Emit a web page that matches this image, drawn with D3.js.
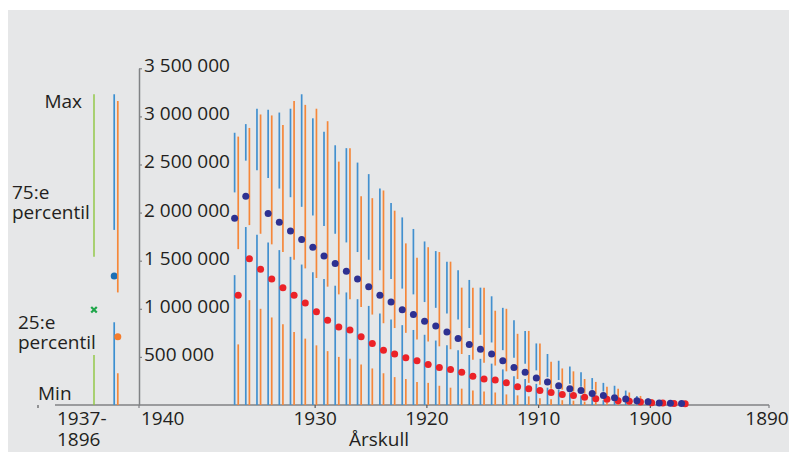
<!DOCTYPE html>
<html>
<head>
<meta charset="utf-8">
<script src="https://cdn.jsdelivr.net/npm/d3@7"></script>
<style>
  body { margin: 0; background: #fff; }
  svg { display: block; font-family: "Open Sans", sans-serif; }
  text { fill: #231f20; font-size: 19px; }
</style>
</head>
<body>
<svg id="chart" width="789" height="452"></svg>
<script>
// birth cohorts (Årskull), values in thousands
const years = [1937, 1936, 1935, 1934, 1933, 1932, 1931, 1930, 1929, 1928,
               1927, 1926, 1925, 1924, 1923, 1922, 1921, 1920, 1919, 1918,
               1917, 1916, 1915, 1914, 1913, 1912, 1911, 1910, 1909, 1908,
               1907, 1906, 1905, 1904, 1903, 1902, 1901, 1900, 1899, 1898, 1897];

// blue series
const blueMax = [2830, 2920, 3080, 3070, 3040, 3080, 3230, 2980, 2840, 2700,
                 2670, 2520, 2400, 2250, 2100, 1950, 1830, 1700, 1600, 1490,
                 1400, 1300, 1220, 1130, 1010, 880, 770, 640, 530, 460,
                 400, 340, 280, 230, 200, 150, 94, 70, 50, 35, 25];
const blueQ3 = [2210, 2540, 2440, 2360, 2250, 2160, 2060, 1970, 1860, 1780,
                1690, 1590, 1510, 1400, 1310, 1210, 1150, 1070, 1010, 950,
                890, 800, 730, 650, 570, 490, 430, 360, 290, 260,
                220, 190, 160, 140, 110, 86, 57, 40, 30, 20, 16];
const blueMed = [1940, 2170, null, 1990, 1900, 1810, 1720, 1640, 1550, 1470,
                 1390, 1310, 1230, 1140, 1070, 990, 940, 870, 820, 760,
                 690, 630, 580, 530, 460, 390, 340, 280, 240, 200,
                 170, 150, 120, 100, 76, 62, 45, 34, 21, 18, 16];
const blueQ1 = [1350, 1850, 1770, 1690, 1610, 1540, 1460, 1380, 1310, 1240,
                1170, 1100, 1030, 950, 890, 830, 780, 730, 670, 620,
                570, 520, 480, 430, 370, 300, 270, 220, 180, 160,
                130, 100, 90, 50, 40, 36, 26, 20, 12, 8, 5];
const blueMin = [0, 0, 0, 0, 0, 0, 0, 0, 0, 0, 0, 0, 0, 0, 0, 0, 0, 0, 0, 0, 0,
                 0, 0, 0, 0, 0, 0, 0, 0, 0, 0, 0, 0, 0, 0, 0, 0, 0, 0, 0, 0];

// orange series
const orangeMax = [2790, 2880, 3020, 3010, 2910, 3160, 3120, 3080, 2950, 2530,
                   2670, 2170, 2150, 2230, 2020, 1680, 1530, 1640, 1590, 1490,
                   1220, 1220, 1220, 980, 1000, 740, 770, 640, 450, 380,
                   350, 270, 240, 190, 170, 130, 94, 60, 40, 30, 20];
const orangeQ3 = [1620, 1870, 1780, 1670, 1590, 1510, 1420, 1320, 1230, 1150,
                  1100, 1020, 940, 850, 800, 750, 680, 660, 610, 580,
                  530, 470, 440, 410, 350, 270, 230, 210, 170, 160,
                  140, 120, 110, 90, 70, 60, 47, 35, 25, 18, 14];
const orangeMed = [1140, 1520, 1410, 1310, 1220, 1140, 1060, 970, 880, 810,
                   780, 710, 640, 570, 530, 490, 460, 420, 390, 370,
                   340, 300, 270, 260, 230, 190, 170, 150, 130, 110,
                   100, 80, 65, 60, 45, 38, 31, 24, 21, 16, 14];
const orangeQ1 = [630, 1090, 1000, 910, 840, 760, 690, 620, 560, 500,
                  480, 420, 380, 330, 290, 270, 240, 230, 200, 180,
                  170, 150, 140, 130, 110, 100, 90, 70, 60, 50,
                  45, 35, 30, 25, 20, 18, 12, 10, 8, 6, 4];
const orangeMin = [0, 0, 0, 0, 0, 0, 0, 0, 0, 0, 0, 0, 0, 0, 0, 0, 0, 0, 0, 0, 0,
                   0, 0, 0, 0, 0, 0, 0, 0, 0, 0, 0, 0, 0, 0, 0, 0, 0, 0, 0, 0];

// whole period 1937-1896 (max, q3, median, q1, min) and the key glyph
const totalBlue = [3230, 1820, 1340, 860, 0];
const totalOrange = [3160, 1170, 710, 330, 0];
const keyGlyph = [3230, 1540, 990, 520, 0];

const yTicks = [500, 1000, 1500, 2000, 2500, 3000, 3500];
const xTicks = [1930, 1920, 1910, 1900];

const svg = d3.select("#chart");

svg.append("rect")
    .attr("x", 8).attr("y", 10)
    .attr("width", 781).attr("height", 442)
    .attr("fill", "#e6e7e8");

const y = d3.scaleLinear().domain([0, 3500]).range([405, 68.3]);
const x = d3.scaleLinear().domain([1940, 1890]).range([202.9, 761.6]);
const legendX = d3.scalePoint().domain(["key", "total"]).range([94, 116]);

const axisColor = "#808285";
const fmt = d3.formatLocale({decimal: ",", thousands: " ", grouping: [3], currency: ["", ""]}).format(",");

// y axis
const yAxis = svg.append("g")
    .attr("transform", "translate(139,0)")
    .call(d3.axisRight(y).tickValues(yTicks).tickSize(3).tickSizeOuter(0)
        .tickPadding(2).tickFormat(d => fmt(d * 1000)));
yAxis.attr("font-family", null).attr("font-size", null);
yAxis.select(".domain").attr("stroke", axisColor).attr("stroke-width", 1.5);
yAxis.selectAll(".tick line").attr("stroke", axisColor).attr("stroke-width", 1.2);
yAxis.selectAll(".tick text").attr("dy", "0.18em");

// x axis
svg.append("line")
    .attr("x1", 55).attr("x2", 769).attr("y1", 405).attr("y2", 405)
    .attr("stroke", axisColor).attr("stroke-width", 1.5);
const xAxis = svg.append("g")
    .attr("transform", "translate(0,405)")
    .call(d3.axisBottom(x).tickValues(xTicks).tickSize(3).tickPadding(3.5)
        .tickFormat(d3.format("d")));
xAxis.attr("font-family", null).attr("font-size", null);
xAxis.select(".domain").remove();
xAxis.selectAll(".tick line").attr("stroke", "#58595b").attr("stroke-width", 1.2);

[[139, 1940, "start", 141], [769, 1890, "middle", 767]].forEach(([tx, label, anchor, lx]) => {
    svg.append("line").attr("x1", tx).attr("x2", tx).attr("y1", 405).attr("y2", 408)
        .attr("stroke", axisColor).attr("stroke-width", 1.2);
    svg.append("text").attr("x", lx).attr("y", 425)
        .attr("text-anchor", anchor).text(label);
});
svg.append("line").attr("x1", 38).attr("x2", 38).attr("y1", 405).attr("y2", 408)
    .attr("stroke", "#58595b").attr("stroke-width", 1.2);

svg.append("text").attr("x", 379).attr("y", 446)
    .attr("text-anchor", "middle").text("Årskull");
svg.append("text").attr("x", 57).attr("y", 425).text("1937-");
svg.append("text").attr("x", 57).attr("y", 446).text("1896");

// yearly glyphs: upper bar max->q3, dot at median, lower bar q1->min
const series = [
    {max: blueMax, q3: blueQ3, med: blueMed, q1: blueQ1, min: blueMin,
     dx: -1.8, bar: "#4290cf", dot: "#2e3192"},
    {max: orangeMax, q3: orangeQ3, med: orangeMed, q1: orangeQ1, min: orangeMin,
     dx: 1.8, bar: "#f5873a", dot: "#ec2227"}
];

series.forEach(s => {
    const rows = years.map((yr, i) => ({
        yr, max: s.max[i], q3: s.q3[i], med: s.med[i], q1: s.q1[i], min: s.min[i]
    }));
    const g = svg.append("g").attr("stroke", s.bar).attr("stroke-width", 1.7);
    g.selectAll(".upper").data(rows).enter().append("line")
        .attr("class", "upper")
        .attr("x1", d => x(d.yr) + s.dx).attr("x2", d => x(d.yr) + s.dx)
        .attr("y1", d => y(d.max)).attr("y2", d => y(d.q3));
    g.selectAll(".lower").data(rows).enter().append("line")
        .attr("class", "lower")
        .attr("x1", d => x(d.yr) + s.dx).attr("x2", d => x(d.yr) + s.dx)
        .attr("y1", d => y(d.q1)).attr("y2", d => y(d.min));
    s.rows = rows;
});

// medians: red under navy
series.slice().reverse().forEach(s => {
    svg.append("g").selectAll("circle")
        .data(s.rows.filter(d => d.med != null))
        .enter().append("circle")
        .attr("cx", d => x(d.yr) + s.dx)
        .attr("cy", d => y(d.med))
        .attr("r", 3.5)
        .attr("fill", s.dot);
});

// legend / whole period column
function glyph(vals, cx, barColor, dotColor, isKey) {
    const g = svg.append("g");
    g.append("line").attr("x1", cx).attr("x2", cx)
        .attr("y1", y(vals[0])).attr("y2", y(vals[1]))
        .attr("stroke", barColor).attr("stroke-width", isKey ? 1.4 : 1.7);
    g.append("line").attr("x1", cx).attr("x2", cx)
        .attr("y1", y(vals[3])).attr("y2", y(vals[4]))
        .attr("stroke", barColor).attr("stroke-width", isKey ? 1.4 : 1.7);
    if (isKey) {
        g.append("path")
            .attr("d", d3.symbol(d3.symbolX, 22)())
            .attr("transform", `translate(${cx},${y(vals[2])})`)
            .attr("stroke", dotColor).attr("stroke-width", 2.2).attr("fill", "none");
    } else {
        g.append("circle").attr("cx", cx).attr("cy", y(vals[2]))
            .attr("r", 3.5).attr("fill", dotColor);
    }
}
glyph(keyGlyph, legendX("key"), "#8dc63f", "#1fa64a", true);
glyph(totalBlue, legendX("total") - 1.8, "#3b8fd1", "#1b6fb5", false);
glyph(totalOrange, legendX("total") + 1.8, "#f5883a", "#f47c2c", false);

const legendText = [
    {t: "Max", x: 82, y: 108, a: "end"},
    {t: "75:e", x: 12, y: 199, a: "start"},
    {t: "percentil", x: 12, y: 219, a: "start"},
    {t: "25:e", x: 18, y: 329, a: "start"},
    {t: "percentil", x: 18, y: 349, a: "start"},
    {t: "Min", x: 38, y: 400, a: "start"}
];
svg.append("g").selectAll("text").data(legendText).enter().append("text")
    .attr("x", d => d.x).attr("y", d => d.y)
    .attr("text-anchor", d => d.a).text(d => d.t);
</script>
</body>
</html>
